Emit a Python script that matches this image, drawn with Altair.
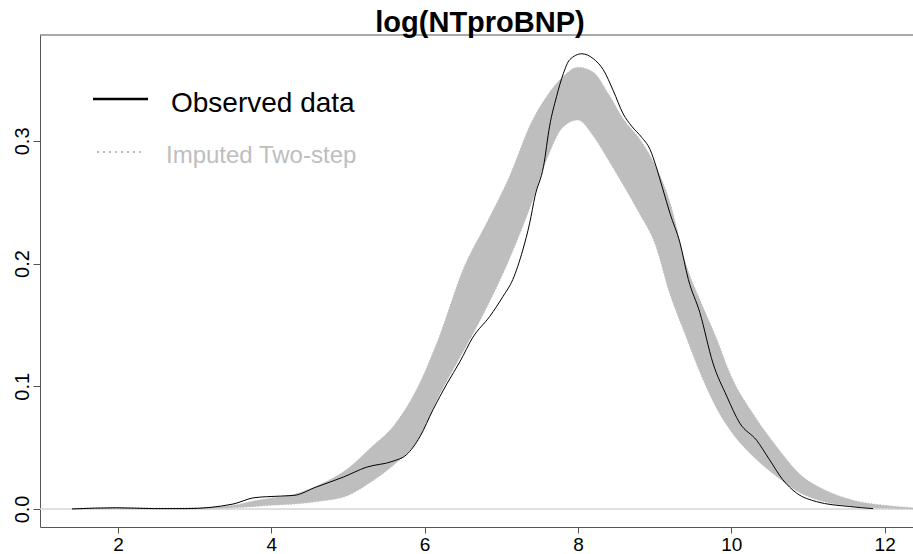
import altair as alt
import pandas as pd

# ---- data ----
obs_x = [1.40, 1.98, 2.46, 2.90, 3.50, 3.76, 3.94, 4.29, 4.59, 4.94, 5.24, 5.59, 5.76, 5.94,
         6.11, 6.29, 6.46, 6.63, 6.85, 7.02, 7.15, 7.28, 7.37, 7.44, 7.55, 7.63, 7.72, 7.81,
         7.89, 8.05, 8.20, 8.33, 8.46, 8.59, 8.70, 8.83, 8.94, 9.02, 9.11, 9.20, 9.33, 9.44,
         9.59, 9.76, 9.94, 10.11, 10.33, 10.50, 10.67, 10.85, 11.11, 11.54, 11.85]
obs_y = [0.0000, 0.0010, 0.0003, 0.0003, 0.0040, 0.0090, 0.0100, 0.0110, 0.0180, 0.0260,
         0.0340, 0.0390, 0.0440, 0.0590, 0.0810, 0.1020, 0.1200, 0.1400, 0.1570, 0.1730,
         0.1870, 0.2110, 0.2330, 0.2550, 0.2790, 0.3120, 0.3360, 0.3550, 0.3660, 0.3710,
         0.3670, 0.3580, 0.3410, 0.3220, 0.3120, 0.3030, 0.2930, 0.2790, 0.2600, 0.2410,
         0.2170, 0.1870, 0.1600, 0.1190, 0.0920, 0.0700, 0.0560, 0.0400, 0.0240, 0.0130,
         0.0060, 0.0020, 0.0003]

band_x = [1.4, 2.0, 2.5, 3.0, 3.5, 3.8, 4.0, 4.3, 4.6, 5.0, 5.3, 5.6, 5.9, 6.2, 6.5, 6.8,
          7.1, 7.4, 7.6, 7.8, 8.0, 8.2, 8.4, 8.6, 8.8, 9.0, 9.2, 9.4, 9.6, 9.8, 10.0, 10.3,
          10.6, 10.9, 11.2, 11.6, 12.0, 12.37]
band_hi = [0.0005, 0.001, 0.0008, 0.001, 0.003, 0.007, 0.009, 0.012, 0.019, 0.033, 0.050,
           0.068, 0.098, 0.142, 0.195, 0.232, 0.270, 0.316, 0.337, 0.352, 0.360, 0.356,
           0.338, 0.317, 0.302, 0.281, 0.250, 0.201, 0.169, 0.140, 0.108, 0.076, 0.050,
           0.028, 0.016, 0.007, 0.003, 0.001]
band_lo = [0.0, 0.0, 0.0, 0.0, 0.001, 0.002, 0.003, 0.004, 0.006, 0.011, 0.022, 0.036,
           0.055, 0.094, 0.128, 0.163, 0.203, 0.250, 0.286, 0.311, 0.317, 0.304, 0.284,
           0.263, 0.241, 0.217, 0.175, 0.142, 0.110, 0.083, 0.063, 0.042, 0.026, 0.013,
           0.006, 0.002, 0.0005, 0.0]

x_ticks = [2, 4, 6, 8, 10, 12]
y_ticks = [0.0, 0.1, 0.2, 0.3]
legend_labels = ["Observed data", "Imputed Two-step"]
title_text = "log(NTproBNP)"

FONT = "Liberation Sans"
GRAY = "#bebebe"
AXIS = "#555555"
W, H = 873, 492

obs = pd.DataFrame({"x": obs_x, "y": obs_y})
band = pd.DataFrame({"x": band_x, "hi": band_hi, "lo": band_lo})
one = pd.DataFrame({"k": [0]})

xs = alt.Scale(domain=[0.983, 12.37], nice=False, zero=False)
ys = alt.Scale(domain=[-0.0147, 0.3863], nice=False, zero=False)

x_axis = alt.Axis(values=x_ticks, format="d", title=None, grid=False, labelFont=FONT,
                  labelFontSize=19, labelColor="black", labelPadding=2, tickSize=6,
                  tickColor=AXIS, domainColor=AXIS, labelFlush=False)
y_axis = alt.Axis(values=y_ticks, format=".1f", title=None, grid=False, labelFont=FONT,
                  labelFontSize=20, labelColor="black", labelAngle=270, labelAlign="center",
                  labelBaseline="alphabetic", labelPadding=5, tickSize=7,
                  tickColor=AXIS, domainColor=AXIS)

baseline = alt.Chart(one).mark_rule(color="#d6d6d6", strokeWidth=1.5).encode(
    y=alt.Y("z:Q", scale=ys, axis=y_axis), x=alt.value(0), x2=alt.value(W)
).transform_calculate(z="0")

area = alt.Chart(band).mark_area(color=GRAY, opacity=1, interpolate="monotone", clip=True).encode(
    x=alt.X("x:Q", scale=xs, axis=x_axis),
    y=alt.Y("hi:Q", scale=ys),
    y2="lo:Q",
)
edge_hi = alt.Chart(band).mark_line(color=GRAY, strokeWidth=1, strokeDash=[1, 2],
                                    interpolate="monotone", clip=True).encode(
    x=alt.X("x:Q", scale=xs), y=alt.Y("hi:Q", scale=ys))
edge_lo = alt.Chart(band).mark_line(color=GRAY, strokeWidth=1, strokeDash=[1, 2],
                                    interpolate="monotone", clip=True).encode(
    x=alt.X("x:Q", scale=xs), y=alt.Y("lo:Q", scale=ys))

obs_line = alt.Chart(obs).mark_line(color="black", strokeWidth=1, interpolate="monotone",
                                    clip=True).encode(
    x=alt.X("x:Q", scale=xs), y=alt.Y("y:Q", scale=ys))

top_border = alt.Chart(one).mark_rule(color=AXIS, strokeWidth=1).encode(
    x=alt.value(0), x2=alt.value(W), y=alt.value(0))

title_mark = alt.Chart(pd.DataFrame({"t": [title_text]})).mark_text(
    font=FONT, fontSize=29, fontWeight="bold", color="black", align="center",
    baseline="alphabetic").encode(x=alt.value(440), y=alt.value(-3), text="t:N")

# legend (drawn by hand, like R's legend())
leg_line1 = alt.Chart(one).mark_rule(color="black", strokeWidth=2.5).encode(
    x=alt.value(53), x2=alt.value(108), y=alt.value(64))
leg_line2 = alt.Chart(one).mark_rule(color=GRAY, strokeWidth=2, strokeDash=[2, 4]).encode(
    x=alt.value(57), x2=alt.value(101), y=alt.value(117))
leg_text1 = alt.Chart(pd.DataFrame({"t": [legend_labels[0]]})).mark_text(
    font=FONT, fontSize=28, color="black", align="left", baseline="alphabetic").encode(
    x=alt.value(131), y=alt.value(77), text="t:N")
leg_text2 = alt.Chart(pd.DataFrame({"t": [legend_labels[1]]})).mark_text(
    font=FONT, fontSize=24, color=GRAY, align="left", baseline="alphabetic").encode(
    x=alt.value(126), y=alt.value(128), text="t:N")

chart = alt.layer(
    baseline, area, edge_hi, edge_lo, obs_line, top_border, title_mark,
    leg_line1, leg_line2, leg_text1, leg_text2
).properties(
    width=W, height=H,
    autosize=alt.AutoSizeParams(type="none"),
    padding={"left": 40, "top": 35, "right": 0, "bottom": 27},
    background="white",
).configure_view(stroke=None)

chart.save("out.html", embed_options={"renderer": "svg", "actions": False})
